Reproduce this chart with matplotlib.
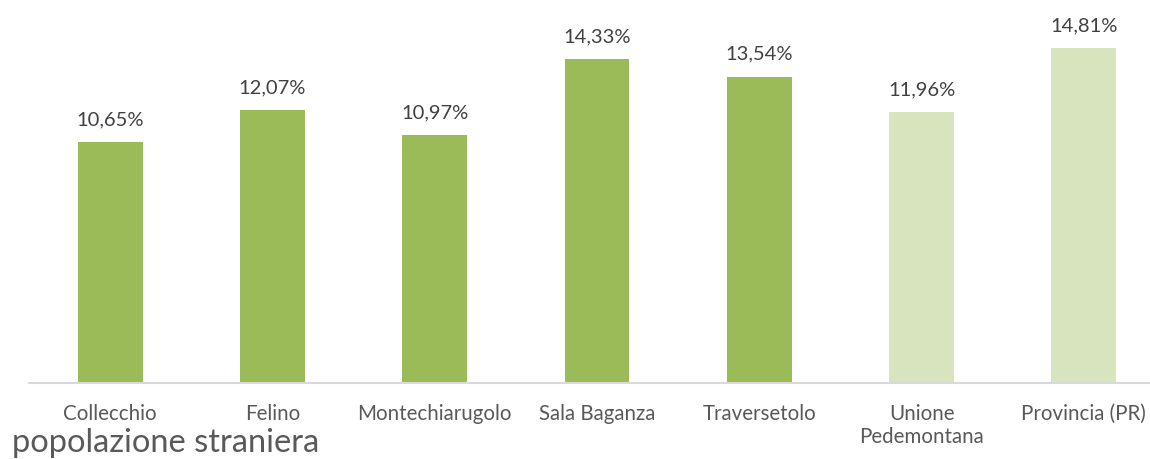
import numpy as np
import matplotlib.pyplot as plt

plt.rcParams['font.family'] = ['Lato', 'DejaVu Sans']

comuni = ["Collecchio", "Felino", "Montechiarugolo", "Sala Baganza",
          "Traversetolo", "Unione\nPedemontana", "Provincia (PR)"]
valori = [10.65, 12.07, 10.97, 14.33, 13.54, 11.96, 14.81]
etichette = ["10,65%", "12,07%", "10,97%", "14,33%", "13,54%", "11,96%", "14,81%"]
colori = ["#9BBB59"] * 5 + ["#D7E4BD"] * 2

fig = plt.figure(figsize=(11.5, 4.59), dpi=100)
ax = fig.add_axes([29 / 1150, 76 / 459, 1136 / 1150, 362 / 459])

x = np.arange(len(comuni))
bars = ax.bar(x, valori, width=0.40, color=colori, zorder=2)
for b, t in zip(bars, etichette):
    ax.annotate(t, (b.get_x() + b.get_width() / 2, b.get_height()),
                xytext=(0, 10), textcoords="offset points",
                ha="center", va="bottom", fontsize=14.5, color="#404040")

ax.set_xlim(-0.5, 6.5)
ax.set_ylim(0, 16)
ax.set_yticks([])
ax.set_xticks(x)
ax.set_xticklabels(comuni, fontsize=14.8, color="#595959", linespacing=1.2)
ax.tick_params(axis="x", length=0, pad=15)
for s in ["top", "right", "left"]:
    ax.spines[s].set_visible(False)
ax.spines["bottom"].set_color("#D9D9D9")
ax.spines["bottom"].set_linewidth(1.5)

fig.text(12 / 1150, 1 - 452 / 459, "popolazione straniera", fontsize=23.5,
         color="#595959", ha="left", va="baseline")

fig.savefig("out.png", dpi=100)
